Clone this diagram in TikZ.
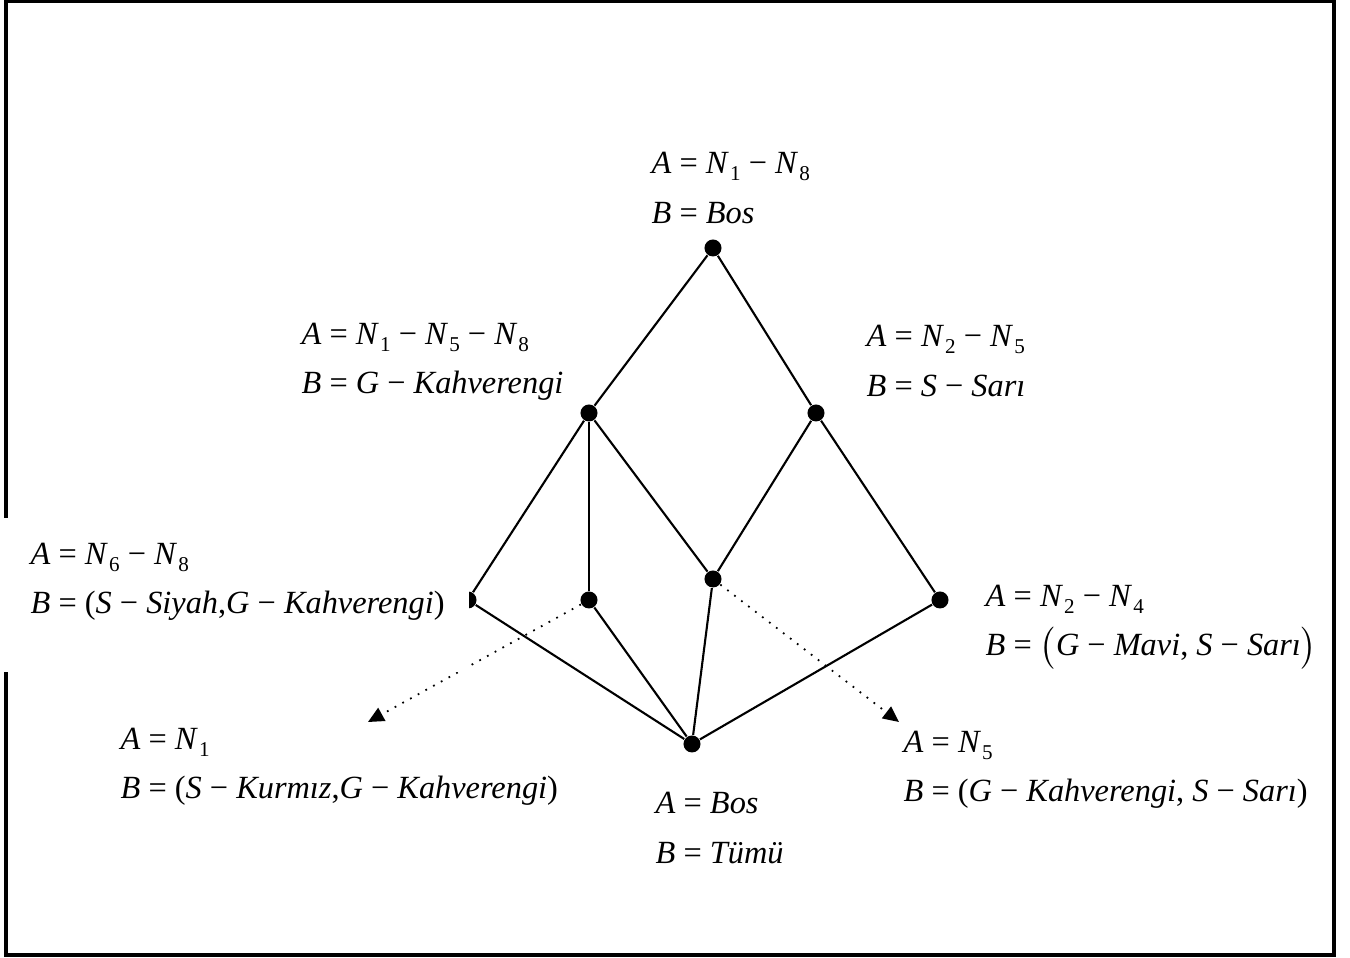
\documentclass[tikz,border=0pt]{standalone}
\usepackage{fontspec}
\setmainfont{Liberation Serif}
\usetikzlibrary{arrows.meta}
\newcommand{\up}[1]{\textup{#1}}
\newcommand{\ix}[1]{\kern0.08em\raisebox{-0.45ex}{\fontsize{6}{6}\selectfont\upshape #1}}
\tikzset{
  dot/.style={circle, fill=black, inner sep=0pt, minimum size=0.17cm},
  edge/.style={line width=0.6pt},
  proj/.style={dotted, line width=0.5pt, -{Triangle[length=4.5pt,width=4.2pt]}},
  lbl/.style={anchor=west, align=left, inner sep=0pt,
    font=\fontsize{9.2}{14}\selectfont\itshape}
}
\begin{document}
\begin{tikzpicture}[x=0.01cm, y=-0.01cm]
  \useasboundingbox (0,0) rectangle (1350,958);
  \draw[line width=0.9pt] (6,1) rectangle (1334,955);
  % lattice points
  \node[dot] (top) at (713,248) {};
  \node[dot] (lmid) at (589,413) {};
  \node[dot] (rmid) at (816,413) {};
  \node[dot] (left) at (468,600) {};
  \node[dot] (inner) at (589,600) {};
  \node[dot] (center) at (713,579) {};
  \node[dot] (right) at (940,600) {};
  \node[dot] (bottom) at (692,744) {};
  \coordinate (n1tip) at (368,722);
  \coordinate (n5tip) at (899,722);
  % edges
  \draw[edge] (top) -- (lmid);
  \draw[edge] (top) -- (rmid);
  \draw[edge] (lmid) -- (left);
  \draw[edge] (lmid) -- (inner);
  \draw[edge] (lmid) -- (center);
  \draw[edge] (rmid) -- (center);
  \draw[edge] (rmid) -- (right);
  \draw[edge] (left) -- (bottom);
  \draw[edge] (inner) -- (bottom);
  \draw[edge] (center) -- (bottom);
  \draw[edge] (right) -- (bottom);
  \draw[proj] (inner) -- (n1tip);
  \draw[proj] (center) -- (n5tip);
  % labels
  \fill[white] (4,518) rectangle (469,672);
  \node[lbl] (ltop) at (651,188) {A \up{=} N\ix{1} \up{−} N\ix{8}\\B \up{=} Bos};
  \node[lbl] (llmid) at (301,362) {A \up{=} N\ix{1} \up{−} N\ix{5} \up{−} N\ix{8}\\B \up{=} G \up{−} Kahverengi};
  \node[lbl] (lrmid) at (866,361) {A \up{=} N\ix{2} \up{−} N\ix{5}\\B \up{=} S \up{−} Sarı};
  \node[lbl] (lleft) at (30,582) {A \up{=} N\ix{6} \up{−} N\ix{8}\\B \up{=} \up{(}S \up{−} Siyah\up{,}G \up{−} Kahverengi\up{)}};
  \node[lbl] (lright) at (985,627) {A \up{=} N\ix{2} \up{−} N\ix{4}\\B \up{=} \up{\big(}G \up{−} Mavi\up{,} S \up{−} Sarı\up{\big)}};
  \node[lbl] (ln1) at (120,767) {A \up{=} N\ix{1}\\B \up{=} \up{(}S \up{−} Kurmız\up{,}G \up{−} Kahverengi\up{)}};
  \node[lbl] (lbottom) at (655,828) {A \up{=} Bos\\B \up{=} Tümü};
  \node[lbl] (ln5) at (903,770) {A \up{=} N\ix{5}\\B \up{=} \up{(}G \up{−} Kahverengi\up{,} S \up{−} Sarı\up{)}};
\end{tikzpicture}
\end{document}
